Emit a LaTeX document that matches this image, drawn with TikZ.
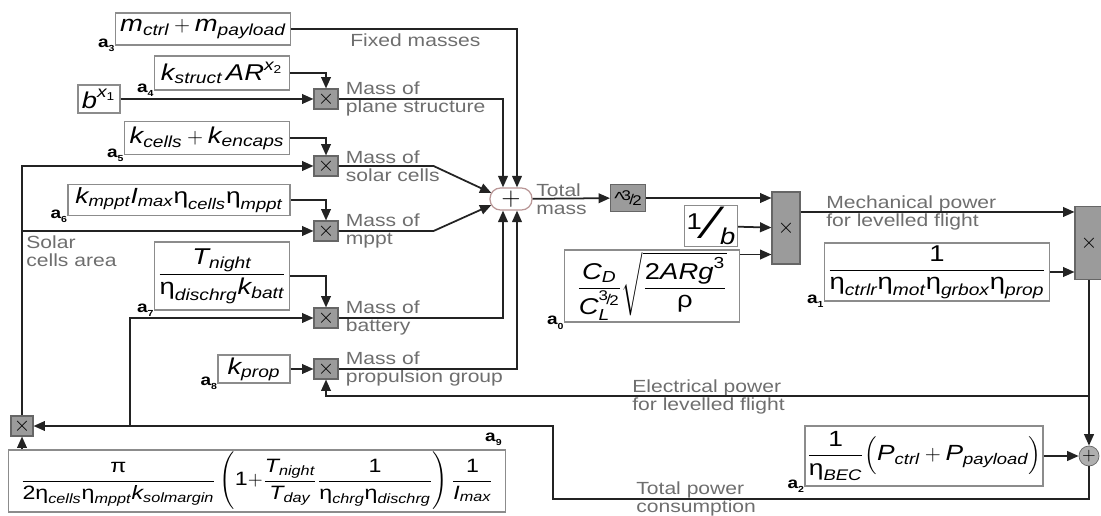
\documentclass[tikz,border=0pt]{standalone}
\usepackage{amsmath}
\usepackage{fontspec}
\setmainfont[FakeStretch=1.2]{Liberation Sans}
\usetikzlibrary{positioning, arrows.meta, calc}
\definecolor{sigline}{RGB}{35,35,35}
\definecolor{lblgray}{RGB}{110,110,110}
\definecolor{boxgray}{RGB}{140,140,140}
\definecolor{mulgray}{RGB}{155,155,155}
\definecolor{sumrose}{RGB}{185,150,150}

\newcommand{\itv}[1]{\textit{#1}}
\newcommand{\upv}[1]{\textup{#1}}
\newcommand{\eeta}{\textup{η}}
\newcommand{\threehalf}{\mbox{\footnotesize\raisebox{0.5ex}{3}\kern-0.12em/\kern-0.12em\raisebox{-0.2ex}{2}}}
\newcommand{\coefl}[1]{\textbf{a}\raisebox{-0.5ex}{\tiny\bfseries #1}}

\tikzset{
  blk/.style={draw=boxgray, fill=white, line width=0.7pt, inner sep=1pt, font=\fontsize{13}{15}\selectfont},
  mul/.style={draw=gray!80!black, fill=mulgray, line width=0.6pt, inner sep=0pt,
              minimum width=0.48cm, minimum height=0.4cm, font=\large},
  lbl/.style={text=lblgray, align=left, inner sep=0pt, font=\fontsize{10}{10}\selectfont},
  coef/.style={inner sep=0pt, font=\fontsize{9}{9}\selectfont},
  sig/.style={draw=sigline, line width=1pt, -{Triangle[length=6.5pt,width=5.5pt]}},
}

\begin{document}
\begin{tikzpicture}[x=0.02cm, y=-0.02cm]
\useasboundingbox (0,0) rectangle (1101,516);

% mass blocks
\node[blk, minimum width=3.5cm, minimum height=0.64cm] (a3) at (203,29) {$\itv{m}_{\itv{ctrl}}+\itv{m}_{\itv{payload}}$};
\node[blk, minimum width=2.7cm, minimum height=0.68cm] (a4) at (222,73) {$\itv{k}_{\itv{struct}}\,\itv{AR}^{\itv{x}_{\upv{2}}}$};
\node[blk, minimum width=0.84cm, minimum height=0.56cm] (bx) at (99,99) {$\itv{b}^{\itv{x}_{\upv{1}}}$};
\node[blk, minimum width=3.3cm, minimum height=0.66cm] (a5) at (207,138) {$\itv{k}_{\itv{cells}}+\itv{k}_{\itv{encaps}}$};
\node[blk, minimum width=4.44cm, minimum height=0.62cm, font=\fontsize{12.5}{15}\selectfont] (a6) at (179,200) {$\itv{k}_{\itv{mppt}}\itv{I}_{\itv{max}}\eeta_{\itv{cells}}\eeta_{\itv{mppt}}$};
\node[blk, minimum width=2.7cm, minimum height=1.36cm] (a7) at (222,276) {$\dfrac{\itv{T}_{\itv{night}}}{\eeta_{\itv{dischrg}}\itv{k}_{\itv{batt}}}$};
\node[blk, minimum width=1.44cm, minimum height=0.56cm] (a8) at (254,369) {$\itv{k}_{\itv{prop}}$};

% multipliers
\foreach \n/\y in {m1/99, m2/166, m3/231, m4/318, m5/369}
  \node[mul] (\n) at (326,\y) {$\times$};
\node[mul, minimum width=0.44cm] (mA) at (22,426) {$\times$};

\node[draw=sumrose, fill=white, line width=0.7pt, rounded corners=6pt, minimum width=0.84cm,
      minimum height=0.44cm, inner sep=0pt] (sum) at (511,199) {\Large$+$};
\node[mul, minimum width=0.7cm, minimum height=0.54cm, font=\normalsize] (pow) at (628,198) {\textasciicircum\kern-0.15em\threehalf};

% power blocks
\node[blk, minimum width=1.06cm, minimum height=0.82cm] (inv) at (711,226) {\raisebox{0.75ex}{1}\kern0.3em{\fontsize{26}{26}\selectfont ⁄}\kern0.1em\raisebox{-0.45ex}{\itv{b}}};
\node[blk, minimum width=3.5cm, minimum height=1.42cm] (a0) at (652,286) {$\dfrac{\itv{C}_{\itv{D}}}{\itv{C}_{\itv{L}}^{\threehalf}}\sqrt{\dfrac{\upv{2}\itv{ARg}^{\upv{3}}}{\upv{ρ}}}$};
\node[mul, minimum width=0.56cm, minimum height=1.44cm] (mbig) at (786,228) {$\times$};
\node[blk, minimum width=4.5cm, minimum height=1.16cm] (a1) at (937,272) {$\dfrac{\upv{1}}{\eeta_{\itv{ctrlr}}\eeta_{\itv{mot}}\eeta_{\itv{grbox}}\eeta_{\itv{prop}}}$};
\node[mul, minimum width=0.56cm, minimum height=1.46cm] (mfin) at (1089,243) {$\times$};
\node[draw=gray!80!black, fill=mulgray!80, circle, minimum size=0.4cm, inner sep=0pt] (sumP) at (1089,456) {$+$};
\node[blk, minimum width=4.64cm, minimum height=1.2cm, font=\fontsize{12.5}{15}\selectfont] (a2) at (924,456) {$\dfrac{\upv{1}}{\eeta_{\itv{BEC}}}\Bigl(\itv{P}_{\itv{ctrl}}+\itv{P}_{\itv{payload}}\Bigr)$};
\node[blk, minimum width=9.94cm, minimum height=1.24cm, font=\fontsize{11}{13}\selectfont] (a9) at (257,481) {$\dfrac{\upv{π}}{\upv{2}\eeta_{\itv{cells}}\eeta_{\itv{mppt}}\itv{k}_{\itv{solmargin}}}\left(\upv{1}{+}\dfrac{\itv{T}_{\itv{night}}}{\itv{T}_{\itv{day}}}\dfrac{\upv{1}}{\eeta_{\itv{chrg}}\eeta_{\itv{dischrg}}}\right)\dfrac{\upv{1}}{\itv{I}_{\itv{max}}}$};

% coefficient names
\node[coef, anchor=east] (c3) at (a3.south west) {\coefl{3}};
\node[coef, anchor=east] (c4) at (a4.south west) {\coefl{4}};
\node[coef, anchor=east] (c5) at (a5.south west) {\coefl{5}};
\node[coef, anchor=east] (c6) at (a6.south west) {\coefl{6}};
\node[coef, anchor=east] (c7) at (a7.south west) {\coefl{7}};
\node[coef, anchor=east] (c8) at (a8.south west) {\coefl{8}};
\node[coef, anchor=east] (c0) at (a0.south west) {\coefl{0}};
\node[coef, anchor=east] (c1) at (a1.south west) {\coefl{1}};
\node[coef, anchor=east] (c2) at (a2.south west) {\coefl{2}};
\node[coef, anchor=south east] (c9) at ($(a9.north east)+(-4,-3)$) {\coefl{9}};

% signal names
\node[lbl, anchor=north west] (lfix) at (350,33) {Fixed masses};
\node[lbl, right=4pt of m1] (l1) {Mass of\\plane structure};
\node[lbl, right=4pt of m2] (l2) {Mass of\\solar cells};
\node[lbl, right=4pt of m3] (l3) {Mass of\\mppt};
\node[lbl, right=4pt of m4] (l4) {Mass of\\battery};
\node[lbl, right=4pt of m5] (l5) {Mass of\\propulsion group};
\node[lbl, anchor=west] (lsol) at (26,251) {Solar\\cells area};
\node[lbl, anchor=west] (ltot) at (536,199) {Total\\mass};
\node[lbl, anchor=west] (lmech) at (826,213) {Mechanical power\\for levelled flight};
\node[lbl, anchor=west] (lelec) at (632,397) {Electrical power\\for levelled flight};
\node[lbl, anchor=west] (lcons) at (636,499) {Total power\\consumption};

% mass chain
\draw[sig] (bx) -- (m1);
\draw[sig] (a4.east) -| (m1.north);
\draw[sig] (a5.east) -| (m2.north);
\draw[sig] (a6.east) -| (m3.north);
\draw[sig] (a7.east) -| (m4.north);
\draw[sig] (a8) -- (m5);
\draw[sig] (a3.east) -| ($(sum.north)+(6,0)$);
\draw[sig] (m1.east) -| ($(sum.north)+(-8,0)$);
\draw[sig] (m2.east) -- ++(95,0) -- ($(sum.west)+(2,-6)$);
\draw[sig] (m3.east) -- ++(95,0) -- ($(sum.west)+(2,6)$);
\draw[sig] (m4.east) -| ($(sum.south)+(-8,0)$);
\draw[sig] (m5.east) -| ($(sum.south)+(6,0)$);

% power chain
\draw[sig] (sum) -- (pow);
\draw[sig] (pow.east) -- (pow.east -| mbig.west);
\draw[sig] (inv) -- (mbig);
\coordinate (mb3) at ($(mbig.south west)+(0,-10)$);
\draw[sig] (a0.east |- mb3) -- (mb3);
\coordinate (mf1) at ($(mfin.north west)+(0,6)$);
\draw[sig] (mbig.east |- mf1) -- (mf1);
\draw[sig] (a1.east) -- (a1.east -| mfin.west);
\draw[sig] (mfin) -- (sumP);
\coordinate (ej) at ($(mfin.south)!0.7!(sumP.north)$);
\draw[sig] (ej) -| (m5.south);
\draw[sig] (a2) -- (sumP);

% feedback to the cells area
\coordinate (tp) at (553,499);
\draw[sig] (sumP.south) |- (tp) |- (mA.east);
\coordinate (bj) at (130,426);
\draw[sig] (bj) |- (m4.west);
\draw[sig] (a9.north -| mA) -- (mA.south);
\draw[sig] (mA.north) |- (m2.west);
\draw[sig] (mA.north |- m3.west) -- (m3.west);
\end{tikzpicture}
\end{document}
